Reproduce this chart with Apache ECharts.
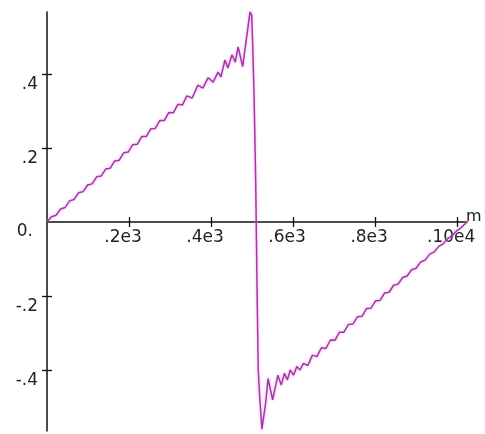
<!DOCTYPE html>
<html><head><meta charset="utf-8">
<script src="https://cdn.jsdelivr.net/npm/echarts@6/dist/echarts.min.js"></script>
<style>html,body{margin:0;padding:0;background:#fff}#c{width:485px;height:434px}</style>
</head><body><div id="c"></div>
<script>
// sample positions m and values
const mValues = [0,11,22,33,44,55,66,77,88,99,110,121,132,143,154,165,176,187,198,209,220,231,242,253,264,275,286,297,308,319,330,341,354,368,380,393,405,417,424,434,441,451,459,466,477,488,495,499,501,505,509,512,515,519,524,527,533,539,550,563,571,579,586,593,601,609,617,625,636,647,658,669,680,691,702,713,724,735,746,757,768,779,790,801,812,823,834,845,856,867,878,889,900,911,922,933,944,955,966,977,988,999,1010,1024];
const sValues = [0,0.014,0.018,0.035,0.039,0.057,0.061,0.079,0.082,0.100,0.103,0.122,0.124,0.143,0.145,0.165,0.167,0.187,0.189,0.209,0.210,0.231,0.231,0.252,0.253,0.274,0.274,0.296,0.295,0.318,0.316,0.341,0.335,0.370,0.362,0.390,0.378,0.405,0.392,0.438,0.416,0.452,0.432,0.473,0.420,0.510,0.568,0.560,0.497,0.335,0.095,-0.170,-0.400,-0.480,-0.560,-0.565,-0.490,-0.423,-0.481,-0.414,-0.441,-0.409,-0.427,-0.400,-0.414,-0.391,-0.400,-0.382,-0.388,-0.360,-0.364,-0.340,-0.342,-0.319,-0.320,-0.298,-0.298,-0.277,-0.276,-0.256,-0.255,-0.234,-0.233,-0.213,-0.212,-0.192,-0.190,-0.171,-0.168,-0.150,-0.146,-0.129,-0.125,-0.108,-0.103,-0.087,-0.081,-0.066,-0.059,-0.045,-0.037,-0.024,-0.015,0];
const xTickValues = [200,400,600,800,1000];
const xTickLabels = ['.2e3','.4e3','.6e3','.8e3','.10e4'];
const yTickValues = [-0.4,-0.2,0.2,0.4];
const yLabelValues = [-0.4,-0.2,0,0.2,0.4];
const yTickLabels = ['-.4','-.2','0.','.2','.4'];

const seriesData = mValues.map((m,i)=>[m,sValues[i]]);
function lookup(vals, labels){return function(v){for(let i=0;i<vals.length;i++){if(Math.abs(vals[i]-v)<1e-6)return labels[i];}return '';};}
const FONT='DejaVu Sans';
const axisColor='#111';
const txt={fontFamily:FONT,fontSize:17,color:'#222'};
const GRID={left:47,right:18,top:12,bottom:3};
const H=434, yMin=-0.565, yMax=0.5676;
const plotH=H-GRID.top-GRID.bottom;
const zeroFromBottom=plotH*(0-yMin)/(yMax-yMin);
const chart = echarts.init(document.getElementById('c'), null, {renderer:'canvas'});
const xBase = {type:'value',min:0,max:1024,gridIndex:0,splitLine:{show:false}};
const yBase = {type:'value',min:yMin,max:yMax,gridIndex:0,splitLine:{show:false}};
const yFmt = lookup(yLabelValues,yTickLabels);
chart.setOption({
  animation:false,
  backgroundColor:'#fff',
  grid:Object.assign({containLabel:false,outerBoundsMode:'none'},GRID),
  xAxis:[
    Object.assign({},xBase,{
      position:'bottom',
      axisLine:{show:true,onZero:true,lineStyle:{color:axisColor,width:1.5}},
      axisTick:{show:true,customValues:xTickValues,length:5,inside:false,lineStyle:{color:axisColor,width:1.3}},
      axisLabel:{show:false},
      name:'m',nameLocation:'end',nameGap:-1,
      nameTextStyle:{fontFamily:FONT,fontSize:16,color:'#222',verticalAlign:'bottom',align:'left',lineHeight:10}
    }),
    Object.assign({},xBase,{
      position:'bottom',
      axisLine:{show:false,onZero:true},
      axisTick:{show:true,customValues:xTickValues,length:5,inside:true,lineStyle:{color:axisColor,width:1.3}},
      axisLabel:{show:false}
    }),
    Object.assign({},xBase,{
      position:'bottom',offset:-zeroFromBottom,
      axisLine:{show:false,onZero:false},
      axisTick:{show:false},
      axisLabel:Object.assign({show:true,customValues:xTickValues,formatter:lookup(xTickValues,xTickLabels),margin:7,padding:[0,12,0,0]},txt)
    })
  ],
  yAxis:[
    Object.assign({},yBase,{
      position:'left',
      axisLine:{show:true,onZero:true,lineStyle:{color:axisColor,width:1.5}},
      axisTick:{show:true,customValues:yTickValues,length:5,inside:false,lineStyle:{color:axisColor,width:1.3}},
      axisLabel:Object.assign({show:true,customValues:yLabelValues,
        formatter:function(v){const s=yFmt(v);return s==='0.'?'{z|0.}':s;},
        rich:{z:Object.assign({padding:[0,5,0,0],lineHeight:20},txt)},
        margin:9,verticalAlign:'top',lineHeight:21},txt)
    }),
    Object.assign({},yBase,{
      position:'left',
      axisLine:{show:false,onZero:true},
      axisTick:{show:true,customValues:yTickValues,length:5,inside:true,lineStyle:{color:axisColor,width:1.3}},
      axisLabel:{show:false}
    })
  ],
  series:[{
    type:'line',xAxisIndex:0,yAxisIndex:0,data:seriesData,showSymbol:false,smooth:false,clip:false,
    lineStyle:{color:'#a636a8',width:1.5,shadowBlur:3,shadowColor:'rgba(235,140,235,0.8)'}
  }]
});
</script></body></html>
